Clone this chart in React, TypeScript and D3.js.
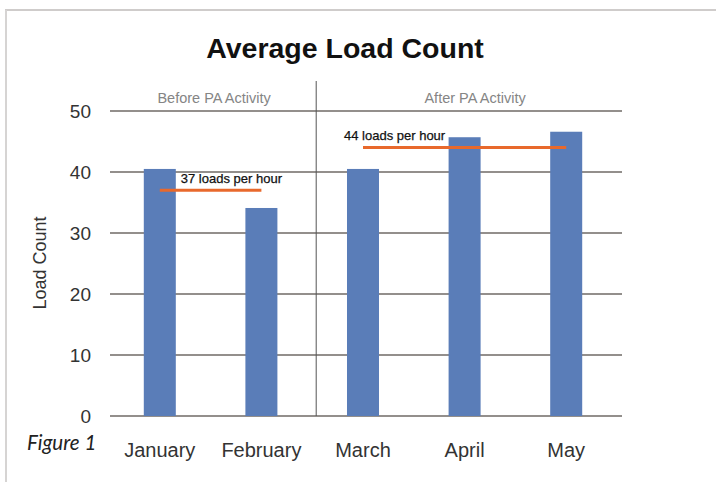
import React from "react";
import * as d3 from "d3";

const months = ["January", "February", "March", "April", "May"];
const loadCounts = [40.5, 34.1, 40.5, 45.7, 46.6];
const yTicks = [0, 10, 20, 30, 40, 50];
const periods = ["Before PA Activity", "After PA Activity"];
const periodMonths = [["January", "February"], ["March", "April", "May"]];
const averages = [37, 44];
const averageLabels = ["37 loads per hour", "44 loads per hour"];

const W = 716;
const H = 482;
const FONT = "'Liberation Sans', Arial, sans-serif";

export default function App() {
  const x = d3.scaleBand<string>().domain(months).range([109, 617]).paddingInner(0.685).paddingOuter(0.3425);
  const y = d3.scaleLinear().domain([0, 50]).range([416, 111]);
  const bw = x.bandwidth();
  const cx = (m: string) => (x(m) as number) + bw / 2;
  const gridX0 = 110;
  const gridX1 = 622;
  const dividerX = ((x("February") as number) + bw + (x("March") as number)) / 2 + 4;
  const periodCenters = [(gridX0 + dividerX) / 2 + 1, (dividerX + gridX1) / 2 + 6];

  return (
    <svg width={W} height={H} style={{ position: "fixed", left: 0, top: 0, background: "#fff" }}>
      <rect x={0} y={0} width={W} height={H} fill="#fff" />
      {/* frame */}
      <line x1={5} x2={W} y1={10} y2={10} stroke="#cfcccb" strokeWidth={2} />
      <line x1={6} x2={6} y1={10} y2={H} stroke="#d6d4d3" strokeWidth={2} />

      <text x={345} y={58} textAnchor="middle" fontFamily={FONT} fontWeight="bold" fontSize={28.5} fill="#111">
        Average Load Count
      </text>

      {/* gridlines */}
      {yTicks.map((t) => (
        <line key={t} x1={gridX0} x2={gridX1} y1={y(t)} y2={y(t)} stroke="#6f6a66" strokeWidth={1.5} />
      ))}

      {/* y tick labels */}
      {yTicks.map((t) => (
        <text key={"l" + t} x={91} y={y(t) + 7} textAnchor="end" fontFamily={FONT} fontSize={19} fill="#333">
          {t}
        </text>
      ))}

      <text
        transform={`translate(46, 263) rotate(-90)`}
        textAnchor="middle"
        fontFamily={FONT}
        fontSize={18}
        fill="#333"
      >
        Load Count
      </text>

      {/* divider */}
      <line x1={dividerX} x2={dividerX} y1={81} y2={y(0)} stroke="#555" strokeWidth={1} />

      {/* period labels */}
      {periods.map((p, i) => (
        <text key={p} x={periodCenters[i]} y={103} textAnchor="middle" fontFamily={FONT} fontSize={14.5} fill="#858585">
          {p}
        </text>
      ))}

      {/* bars */}
      {months.map((m, i) => (
        <rect key={m} x={x(m)} y={y(loadCounts[i])} width={bw} height={y(0) - y(loadCounts[i])} fill="#5a7db8" />
      ))}

      {/* average lines */}
      {averages.map((a, i) => {
        const ms = periodMonths[i];
        const x1 = cx(ms[0]);
        const x2 = cx(ms[ms.length - 1]);
        return (
          <g key={"avg" + i}>
            <line x1={x1} x2={x2} y1={y(a)} y2={y(a)} stroke="#e8692c" strokeWidth={3} />
            <text
              x={i === 0 ? x1 + 21 : x1 - 19}
              y={y(a) - 7.5}
              fontFamily={FONT}
              fontSize={13}
              fill="#111"
              stroke="#111"
              strokeWidth={0.25}
            >
              {averageLabels[i]}
            </text>
          </g>
        );
      })}

      {/* x labels */}
      {months.map((m) => (
        <text key={"x" + m} x={cx(m)} y={457} textAnchor="middle" fontFamily={FONT} fontSize={20} fill="#333">
          {m}
        </text>
      ))}

      <text x={27} y={450} fontFamily="Lato, 'Open Sans', sans-serif" fontStyle="italic" fontSize={20.5} fill="#222">
        Figure 1
      </text>
    </svg>
  );
}
